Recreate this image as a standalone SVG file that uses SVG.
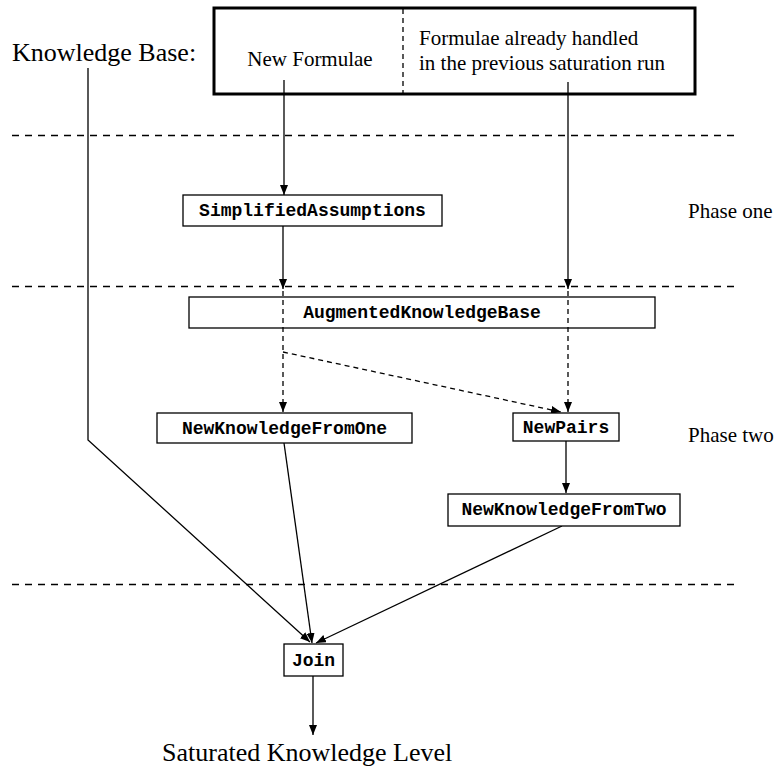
<svg xmlns="http://www.w3.org/2000/svg" width="774" height="769" viewBox="0 0 774 769">
<style>
.serif{font-family:"Liberation Serif","Times New Roman",serif;fill:#000}
.mono{font-family:"Liberation Mono","Courier New",monospace;font-weight:bold;font-size:18px;fill:#000;text-anchor:middle}
.box{fill:#fff;stroke:#000;stroke-width:1.3}
.sep{stroke:#000;stroke-width:1.3;stroke-dasharray:7 6;fill:none}
.c{stroke:#000;stroke-width:1.3;fill:none;marker-end:url(#ah)}
.cd{stroke:#000;stroke-width:1.3;fill:none;stroke-dasharray:5 4}
.cda{stroke:#000;stroke-width:1.3;fill:none;stroke-dasharray:5 4;marker-end:url(#ah)}
</style>
<defs>
<marker id="ah" viewBox="0 0 10 8" markerWidth="10" markerHeight="8" refX="10" refY="4" orient="auto" markerUnits="userSpaceOnUse">
<path d="M0,0 L10,4 L0,8 z" fill="#000"/>
</marker>
</defs>
<rect width="774" height="769" fill="#fff"/>
<g id="separators">
<line class="sep" x1="12" y1="135.5" x2="740" y2="135.5"/>
<line class="sep" x1="12" y1="286.5" x2="740" y2="286.5"/>
<line class="sep" x1="12" y1="584.5" x2="740" y2="584.5"/>
</g>
<g id="labels">
<text class="serif" x="12" y="61" font-size="26">Knowledge Base:</text>
<text class="serif" x="688" y="218" font-size="21">Phase one</text>
<text class="serif" x="688" y="442" font-size="21">Phase two</text>
<text class="serif" x="162" y="761" font-size="26">Saturated Knowledge Level</text>
</g>
<g id="knowledge-base">
<rect x="214" y="8" width="481" height="86" fill="#fff" stroke="#000" stroke-width="3"/>
<line x1="403" y1="9" x2="403" y2="93" class="cd"/>
<text class="serif" x="310" y="66" font-size="21" text-anchor="middle">New Formulae</text>
<text class="serif" x="419" y="45" font-size="21">Formulae already handled</text>
<text class="serif" x="419" y="70" font-size="21">in the previous saturation run</text>
</g>
<g id="connectors">
<polyline class="c" points="88,68 88,440 310,642"/>
<line class="c" x1="284" y1="80" x2="284" y2="195"/>
<line class="c" x1="568" y1="82" x2="568" y2="289"/>
<line class="c" x1="283" y1="226" x2="283" y2="289"/>
<line class="cda" x1="283" y1="291" x2="283" y2="412"/>
<line class="cda" x1="283" y1="352" x2="561" y2="412"/>
<line class="cda" x1="568" y1="291" x2="568" y2="412"/>
<line class="c" x1="566" y1="441" x2="566" y2="493"/>
<line class="c" x1="284" y1="443" x2="312" y2="643"/>
<line class="c" x1="562" y1="526" x2="316" y2="643"/>
<line class="c" x1="313" y1="676" x2="313" y2="735"/>
</g>
<g id="simplified-assumptions">
<rect class="box" x="183" y="195" width="259" height="31"/>
<text class="mono" x="312.5" y="216">SimplifiedAssumptions</text>
</g>
<g id="augmented-knowledge-base">
<rect class="box" x="189" y="297" width="466" height="31" style="fill:none"/>
<text class="mono" x="422" y="318">AugmentedKnowledgeBase</text>
</g>
<g id="new-knowledge-from-one">
<rect class="box" x="157" y="413" width="255" height="30"/>
<text class="mono" x="284.5" y="434">NewKnowledgeFromOne</text>
</g>
<g id="new-pairs">
<rect class="box" x="513" y="413" width="106" height="28"/>
<text class="mono" x="566" y="433">NewPairs</text>
</g>
<g id="new-knowledge-from-two">
<rect class="box" x="448" y="494" width="232" height="32"/>
<text class="mono" x="564" y="515">NewKnowledgeFromTwo</text>
</g>
<g id="join">
<rect class="box" x="284" y="644" width="59" height="32"/>
<text class="mono" x="313.5" y="666">Join</text>
</g>
</svg>
